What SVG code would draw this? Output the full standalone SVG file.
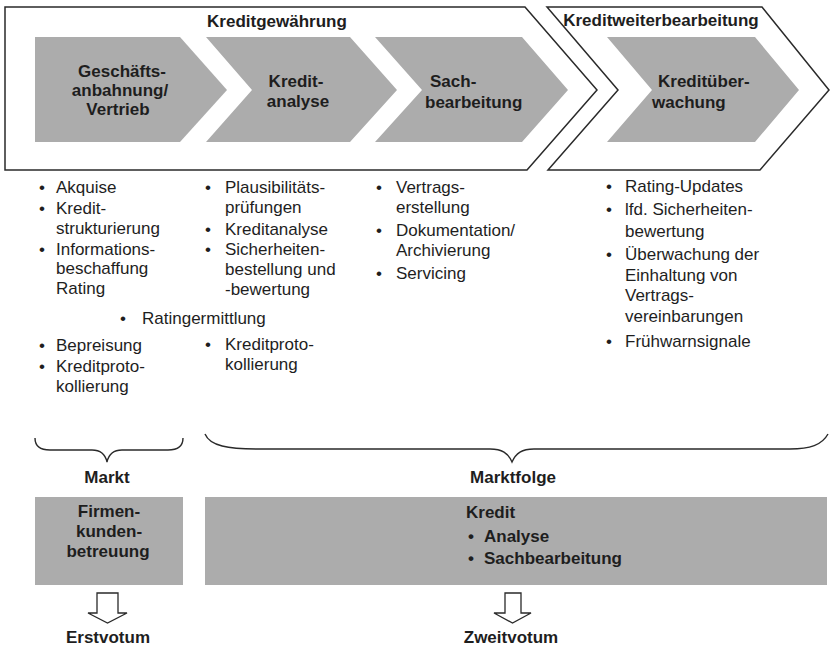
<svg xmlns="http://www.w3.org/2000/svg" width="830" height="646" viewBox="0 0 830 646">
<style>
.frame{fill:#fff;stroke:#2a2a2a;stroke-width:1.5}
.grey{fill:#acacac}
.t{font-family:"Liberation Sans",Arial,sans-serif;font-size:17px;fill:#1e1e1e}
.b{font-weight:bold}
.m{text-anchor:middle}
.brace{fill:none;stroke:#2a2a2a;stroke-width:1.4}
.hollow{fill:#fff;stroke:#2a2a2a;stroke-width:1.3}
</style>
<rect width="830" height="646" fill="#fff"/>

<g id="kreditgewaehrung">
<path class="frame" d="M5,7 L525,7 L597,90 L527,170 L5,170 Z"/>
<text class="t b m" x="277" y="27">Kreditgewährung</text>
</g>
<g id="kreditweiterbearbeitung">
<path class="frame" d="M547,7 L762,7 L829,90 L760,170 L548,170 L618,90 Z"/>
<text class="t b m" x="661" y="26">Kreditweiterbearbeitung</text>
</g>

<g id="geschaeftsanbahnung">
<path class="grey" d="M35,37 L180,37 L227,90 L180,142 L35,142 Z"/>
<text class="t b m" x="122" y="77">Geschäfts-</text>
<text class="t b m" x="120" y="96">anbahnung/</text>
<text class="t b m" x="118" y="115">Vertrieb</text>
</g>
<g id="kreditanalyse">
<path class="grey" d="M206,37 L350,37 L397,90 L350,142 L206,142 L252,90 Z"/>
<text class="t b m" x="296" y="87">Kredit-</text>
<text class="t b m" x="298" y="107">analyse</text>
</g>
<g id="sachbearbeitung">
<path class="grey" d="M375,37 L522,37 L568,90 L522,142 L375,142 L422,90 Z"/>
<text class="t b" x="430" y="87">Sach-</text>
<text class="t b" x="425" y="108">bearbeitung</text>
</g>
<g id="kreditueberwachung">
<path class="grey" d="M607,37 L755,37 L799,90 L755,142 L607,142 L652,90 Z"/>
<text class="t b" x="658" y="87">Kreditüber-</text>
<text class="t b" x="652" y="108">wachung</text>
</g>

<g id="list1">
<text class="t" x="39" y="193">•</text><text class="t" x="56" y="193">Akquise</text>
<text class="t" x="39" y="214">•</text><text class="t" x="56" y="214">Kredit-</text>
<text class="t" x="56" y="234">strukturierung</text>
<text class="t" x="39" y="255">•</text><text class="t" x="56" y="255">Informations-</text>
<text class="t" x="56" y="274">beschaffung</text>
<text class="t" x="56" y="294">Rating</text>
<text class="t" x="120" y="324">•</text><text class="t" x="142" y="324">Ratingermittlung</text>
<text class="t" x="39" y="351">•</text><text class="t" x="56" y="351">Bepreisung</text>
<text class="t" x="39" y="372">•</text><text class="t" x="56" y="372">Kreditproto-</text>
<text class="t" x="56" y="392">kollierung</text>
</g>
<g id="list2">
<text class="t" x="205" y="193">•</text><text class="t" x="225" y="193">Plausibilitäts-</text>
<text class="t" x="225" y="213">prüfungen</text>
<text class="t" x="205" y="235">•</text><text class="t" x="225" y="235">Kreditanalyse</text>
<text class="t" x="205" y="255">•</text><text class="t" x="225" y="255">Sicherheiten-</text>
<text class="t" x="225" y="275">bestellung und</text>
<text class="t" x="225" y="295">-bewertung</text>
<text class="t" x="205" y="350">•</text><text class="t" x="225" y="350">Kreditproto-</text>
<text class="t" x="225" y="370">kollierung</text>
</g>
<g id="list3">
<text class="t" x="376" y="193">•</text><text class="t" x="396" y="193">Vertrags-</text>
<text class="t" x="396" y="213">erstellung</text>
<text class="t" x="376" y="236">•</text><text class="t" x="396" y="236">Dokumentation/</text>
<text class="t" x="396" y="256">Archivierung</text>
<text class="t" x="376" y="279">•</text><text class="t" x="396" y="279">Servicing</text>
</g>
<g id="list4">
<text class="t" x="606" y="192">•</text><text class="t" x="625" y="192">Rating-Updates</text>
<text class="t" x="606" y="215">•</text><text class="t" x="625" y="215">lfd. Sicherheiten-</text>
<text class="t" x="625" y="237">bewertung</text>
<text class="t" x="606" y="260">•</text><text class="t" x="625" y="260">Überwachung der</text>
<text class="t" x="625" y="281">Einhaltung von</text>
<text class="t" x="625" y="301">Vertrags-</text>
<text class="t" x="625" y="322">vereinbarungen</text>
<text class="t" x="606" y="347">•</text><text class="t" x="625" y="347">Frühwarnsignale</text>
</g>

<g id="connectors">
<path class="brace" d="M35,438 C35,446 40,450 50,450 L92,450 C100,450 105,453 107,462 C109,453 114,450 122,450 L168,450 C178,450 183,446 183,438"/>
<path class="brace" d="M205,434 C210,446 228,449 258,449 L490,449 C502,449 508,453 512,462 C516,453 522,449 534,449 L790,449 C810,449 822,445 828,434"/>
<path class="hollow" d="M97,593 L118,593 L118,613 L127,613 L107.5,623 L88,613 L97,613 Z"/>
<path class="hollow" d="M505,593 L521,593 L521,613 L531,613 L512.5,623 L494,613 L505,613 Z"/>
</g>

<g id="markt">
<text class="t b m" x="107" y="483">Markt</text>
</g>
<g id="marktfolge">
<text class="t b m" x="513" y="483">Marktfolge</text>
</g>
<g id="firmenkundenbetreuung">
<rect class="grey" x="35" y="497" width="148" height="88"/>
<text class="t b m" x="109" y="517">Firmen-</text>
<text class="t b m" x="109" y="537">kunden-</text>
<text class="t b m" x="108" y="557">betreuung</text>
</g>
<g id="kredit">
<rect class="grey" x="205" y="497" width="622" height="88"/>
<text class="t b" x="466" y="518">Kredit</text>
<text class="t b" x="468" y="542">•</text><text class="t b" x="484" y="542">Analyse</text>
<text class="t b" x="468" y="564">•</text><text class="t b" x="484" y="564">Sachbearbeitung</text>
</g>
<g id="erstvotum">
<text class="t b m" x="108" y="643">Erstvotum</text>
</g>
<g id="zweitvotum">
<text class="t b m" x="511" y="643">Zweitvotum</text>
</g>
</svg>
